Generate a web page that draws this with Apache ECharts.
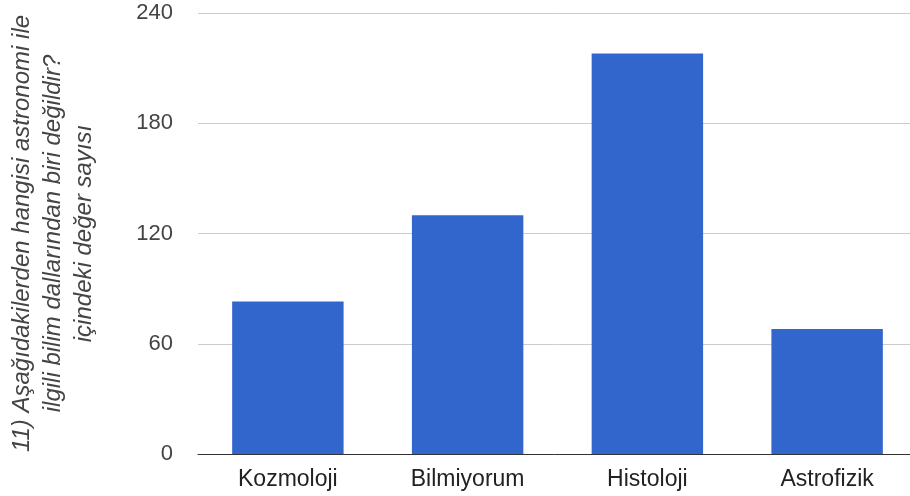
<!DOCTYPE html>
<html><head><meta charset="utf-8">
<script src="https://cdn.jsdelivr.net/npm/echarts@6/dist/echarts.min.js"></script>
<style>html,body{margin:0;padding:0;background:#fff}#c{width:910px;height:496px}</style>
</head><body><div id="c"></div>
<script>
const categories = ["Kozmoloji", "Bilmiyorum", "Histoloji", "Astrofizik"];
const values = [83, 130, 218, 68];
const yTicks = [0, 60, 120, 180, 240];
const yTitle = "11) Aşağıdakilerden hangisi astronomi ile\nilgili bilim dallarından biri değildir?\niçindeki değer sayısı";
const FF = 'Liberation Sans, Arial, sans-serif';

const chart = echarts.init(document.getElementById('c'), null, {renderer: 'canvas'});
chart.setOption({
  animation: false,
  backgroundColor: '#fff',
  textStyle: {fontFamily: FF},
  grid: {left: 198, width: 719, top: 13, bottom: 42, containLabel: false, outerBoundsMode: 'none'},
  xAxis: {
    type: 'category',
    data: categories,
    axisLine: {lineStyle: {color: '#333', width: 1}},
    axisTick: {show: false},
    axisLabel: {color: '#222', fontSize: 23, margin: 14, fontFamily: FF}
  },
  yAxis: {
    type: 'value',
    min: yTicks[0], max: yTicks[yTicks.length - 1], interval: 60,
    name: yTitle,
    nameLocation: 'middle',
    nameRotate: 90,
    nameGap: 98,
    nameTextStyle: {color: '#444', fontSize: 24, fontStyle: 'italic', lineHeight: 31, align: 'center', fontFamily: FF},
    axisLine: {show: false},
    axisTick: {show: false},
    splitLine: {lineStyle: {color: '#ccc', width: 1}},
    axisLabel: {color: '#444', fontSize: 22, margin: 25, fontFamily: FF}
  },
  series: [{
    type: 'bar',
    data: values,
    barWidth: '62%',
    itemStyle: {color: '#3366cc'}
  }]
});
</script></body></html>
